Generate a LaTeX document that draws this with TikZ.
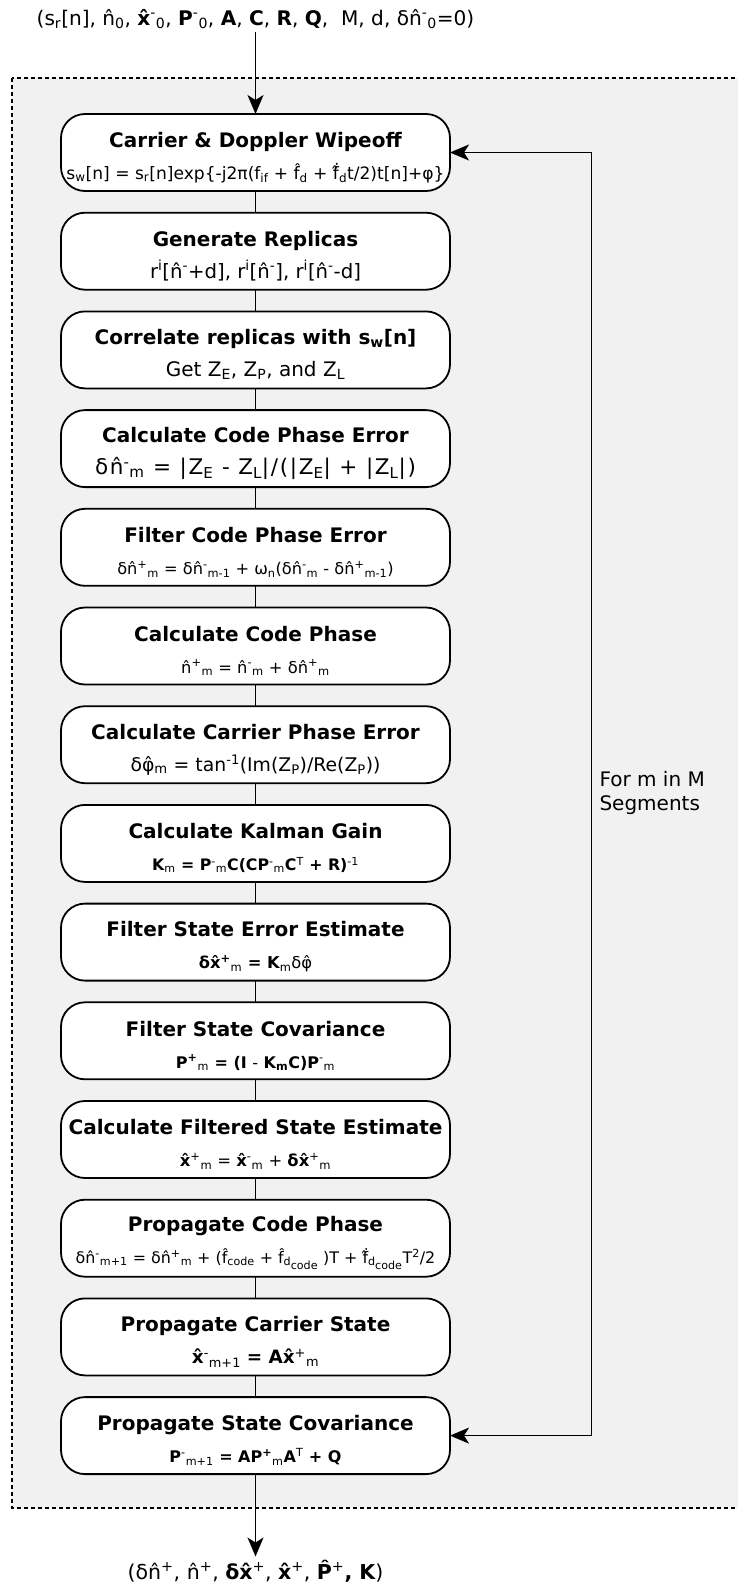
\documentclass[tikz,border=0pt]{standalone}
\usepackage{fontspec}
\setmainfont{DejaVu Sans}
\usetikzlibrary{positioning,arrows.meta}
\definecolor{LoopGray}{HTML}{F1F1F1}
\newcommand{\Up}[1]{\textsuperscript{#1}}
\newcommand{\Dn}[1]{\textsubscript{#1}}
\newcommand{\steptitle}[1]{\rule{0pt}{25pt}{\bfseries #1}}
\newcommand{\stepeq}[2]{{\fontsize{#1}{#1}\selectfont #2}}

\begin{document}
\begin{tikzpicture}[x=1pt,y=-1pt,
  stepbox/.style={draw,line width=1.8pt,rounded corners=24pt,fill=white,
    minimum width=389pt,minimum height=77pt,inner sep=3pt,outer sep=0pt,align=center,
    font=\fontsize{20}{32}\selectfont},
  link/.style={line width=1.4pt},
  flow/.style={line width=1.4pt,-{Stealth[length=19pt,width=16pt,inset=5pt]}},
  loopflow/.style={line width=1.4pt,{Stealth[length=19pt,width=16pt,inset=5pt]}-{Stealth[length=19pt,width=16pt,inset=5pt]}}]
\path[use as bounding box] (0,0) rectangle (738,1585);
% loop area
\draw[fill=LoopGray,line width=2pt,dash pattern=on 4pt off 3pt] (12,78) rectangle (760,1508);

% inputs and outputs
\node[font=\fontsize{20.1}{22}\selectfont] (inputs) at (255.5,19) {(s\Dn{r}[n], n̂\Dn{0}, {\bfseries x̂}\Up{-}\Dn{0}, {\bfseries P}\Up{-}\Dn{0}, {\bfseries A}, {\bfseries C}, {\bfseries R}, {\bfseries Q},~ M, d, δn̂\Up{-}\Dn{0}=0)};
\node[font=\fontsize{20.5}{22}\selectfont] (outputs) at (255.5,1571) {(δn̂\Up{+}, n̂\Up{+}, {\bfseries δx̂}\Up{+}, {\bfseries x̂}\Up{+}, {\bfseries P̂}\Up{+}{\bfseries , K})};

% steps
\node[stepbox] (wipeoff) at (255.5,152.5) {\steptitle{Carrier \& Doppler Wipeoff}\\
  \stepeq{17.1}{s\Dn{w}[n] = s\Dn{r}[n]exp\{-j2π(f\Dn{if} + f̂\Dn{d} + ḟ̂\Dn{d}t/2)t[n]+φ\}}};
\node[stepbox,below=21.7pt of wipeoff] (replicas) {\steptitle{Generate Replicas}\\
  \stepeq{19.7}{r\Up{i}[n̂\Up{-}+d], r\Up{i}[n̂\Up{-}], r\Up{i}[n̂\Up{-}-d]}};
\node[stepbox,below=21.7pt of replicas] (correlate) {\steptitle{Correlate replicas with s\Dn{w}[n]}\\
  \stepeq{20}{Get Z\Dn{E}, Z\Dn{P}, and Z\Dn{L}}};
\node[stepbox,below=21.7pt of correlate] (codeerr) {\steptitle{Calculate Code Phase Error}\\
  \stepeq{21.5}{\addfontfeature{LetterSpace=8}δn̂\Up{-}\Dn{m} = |Z\Dn{E} - Z\Dn{L}|/(|Z\Dn{E}| + |Z\Dn{L}|)}};
\node[stepbox,below=21.7pt of codeerr] (codefilt) {\steptitle{Filter Code Phase Error}\\
  \stepeq{16.2}{δn̂\Up{+}\Dn{m} = δn̂\Up{-}\Dn{m-1} + ω\Dn{n}(δn̂\Up{-}\Dn{m} - δn̂\Up{+}\Dn{m-1})}};
\node[stepbox,below=21.7pt of codefilt] (codephase) {\steptitle{Calculate Code Phase}\\
  \stepeq{16.3}{n̂\Up{+}\Dn{m} = n̂\Up{-}\Dn{m} + δn̂\Up{+}\Dn{m}}};
\node[stepbox,below=21.7pt of codephase] (carrerr) {\steptitle{Calculate Carrier Phase Error}\\
  \stepeq{18.8}{δφ̂\Dn{m} = tan\Up{-1}(Im(Z\Dn{P})/Re(Z\Dn{P}))}};
\node[stepbox,below=21.7pt of carrerr] (gain) {\steptitle{Calculate Kalman Gain}\\
  \stepeq{15.8}{\bfseries K\Dn{\mdseries m} = P\Up{\mdseries -}\Dn{\mdseries m}C(CP\Up{\mdseries -}\Dn{\mdseries m}C\Up{\mdseries T} + R)\Up{\mdseries -1}}};
\node[stepbox,below=21.7pt of gain] (staterr) {\steptitle{Filter State Error Estimate}\\
  \stepeq{16.3}{\bfseries δx̂\Up{+}\Dn{\mdseries m} = K\Dn{\mdseries m}{\mdseries δφ̂}}};
\node[stepbox,below=21.7pt of staterr] (statecov) {\steptitle{Filter State Covariance}\\
  \stepeq{16}{\bfseries P\Up{+}\Dn{\mdseries m} = (I {\mdseries -} K\Dn{m}C)P\Up{\mdseries -}\Dn{\mdseries m}}};
\node[stepbox,below=21.7pt of statecov] (stateest) {\steptitle{Calculate Filtered State Estimate}\\
  \stepeq{16.4}{{\bfseries x̂}\Up{+}\Dn{m} = {\bfseries x̂}\Up{-}\Dn{m} + {\bfseries δx̂}\Up{+}\Dn{m}}};
\node[stepbox,below=21.7pt of stateest] (codeprop) {\steptitle{Propagate Code Phase}\\
  \stepeq{15.9}{δn̂\Up{-}\Dn{m+1} = δn̂\Up{+}\Dn{m} + (f̂\Dn{code} + f̂\Dn{d\raisebox{-0.35em}{code}} )T + ḟ̂\Dn{d\raisebox{-0.35em}{code}}T\Up{2}/2}};
\node[stepbox,below=21.7pt of codeprop] (carrprop) {\steptitle{Propagate Carrier State}\\
  \stepeq{18.4}{{\bfseries x̂}\Up{-}\Dn{m+1} {\bfseries = Ax̂}\Up{+}\Dn{m}}};
\node[stepbox,below=21.7pt of carrprop] (covprop) {\steptitle{Propagate State Covariance}\\
  \stepeq{16}{\bfseries P\Up{\mdseries -}\Dn{\mdseries m+1} = AP\Up{+}\Dn{\mdseries m}A\Up{\mdseries T} + Q}};

% links
\draw[link] (wipeoff) -- (replicas);
\draw[link] (replicas) -- (correlate);
\draw[link] (correlate) -- (codeerr);
\draw[link] (codeerr) -- (codefilt);
\draw[link] (codefilt) -- (codephase);
\draw[link] (codephase) -- (carrerr);
\draw[link] (carrerr) -- (gain);
\draw[link] (gain) -- (staterr);
\draw[link] (staterr) -- (statecov);
\draw[link] (statecov) -- (stateest);
\draw[link] (stateest) -- (codeprop);
\draw[link] (codeprop) -- (carrprop);
\draw[link] (carrprop) -- (covprop);
\draw[flow] (inputs) -- (wipeoff);
\draw[flow] (covprop) -- (outputs);

% segment loop
\coordinate (loopx) at (591.7,0);
\draw[loopflow] (wipeoff.east) -- (wipeoff.east -| loopx) -- (covprop.east -| loopx) -- (covprop.east);
\node[anchor=west,align=left,font=\fontsize{20}{23.5}\selectfont] (looplabel) at (596,793) {For m in M\\Segments};
\end{tikzpicture}
\end{document}
